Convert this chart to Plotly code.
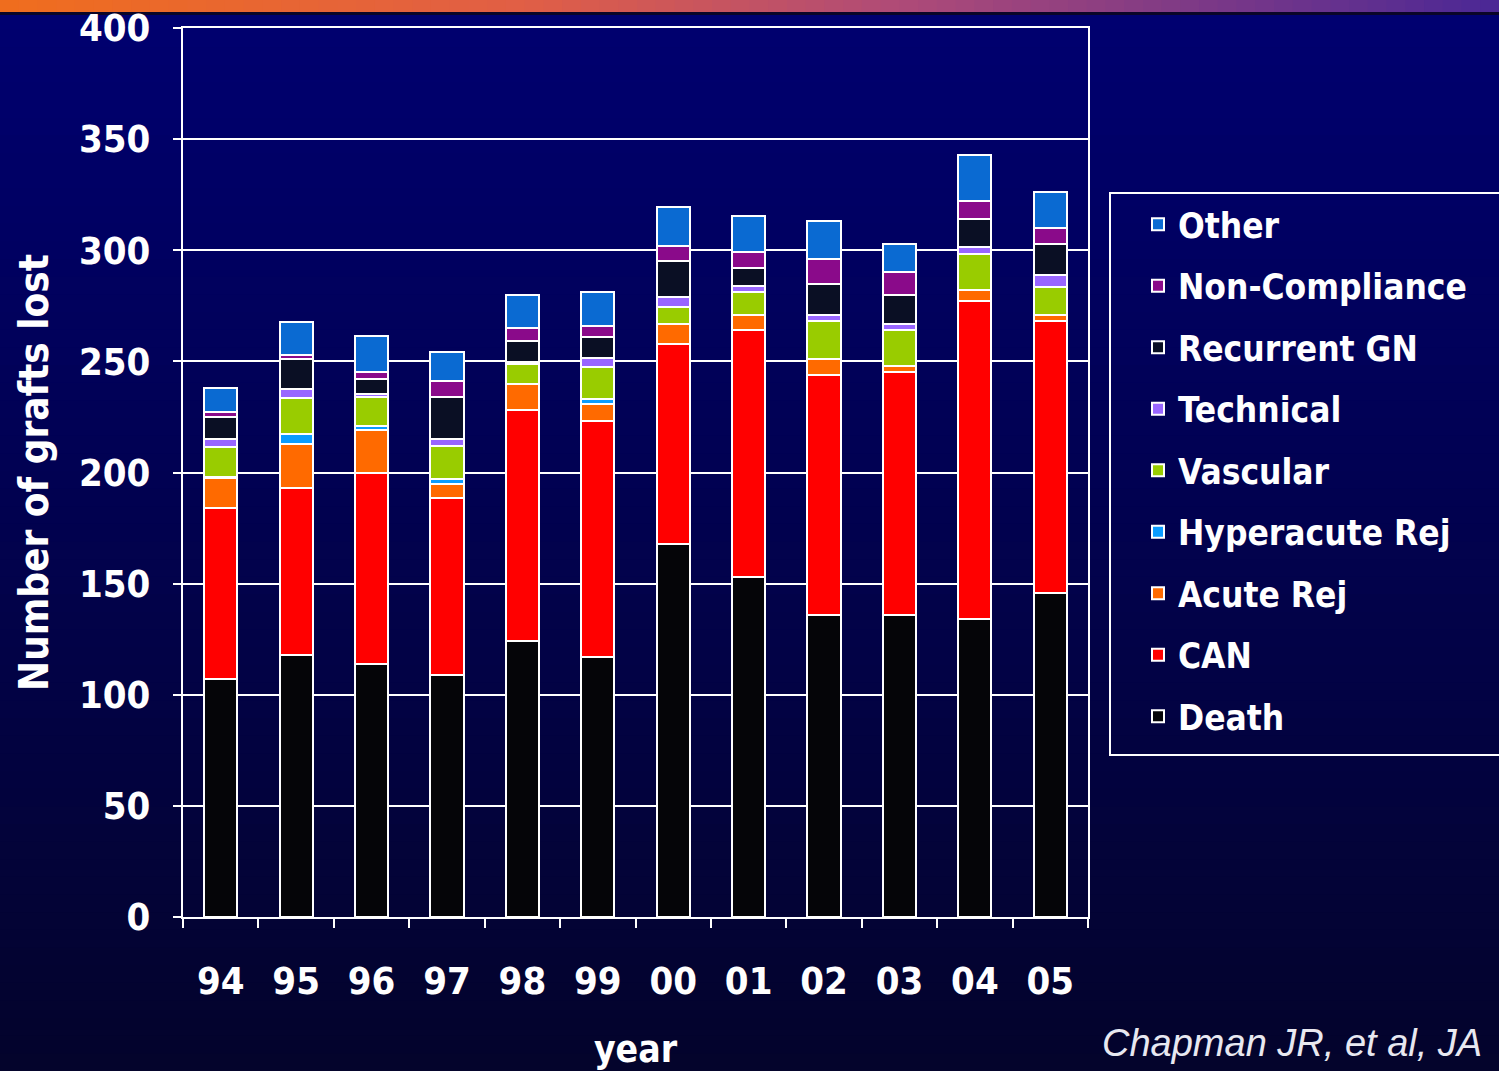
import plotly.graph_objects as go

years = ["94", "95", "96", "97", "98", "99", "00", "01", "02", "03", "04", "05"]

death        = [107, 118, 114, 109, 124, 117, 168, 153, 136, 136, 134, 146]
can          = [77, 75, 86, 79.5, 104, 106, 90, 111, 108, 109, 143, 122]
acute_rej    = [13.5, 20, 19, 6.5, 12, 8, 9, 7, 7, 3, 5, 3]
hyperacute   = [0.5, 4.5, 2, 2, 0, 2, 0, 0, 0, 0, 0, 0]
vascular     = [13.5, 16, 13, 15, 9, 14.5, 7.5, 10, 17, 16, 16.5, 12.5]
technical    = [3.5, 4, 1.5, 3, 0.5, 4, 4.5, 3, 3, 3, 3, 5.5]
recurrent_gn = [10, 13.5, 6.5, 19, 9.5, 9.5, 16, 8, 14, 13, 12.5, 14]
non_compl    = [2, 2, 3, 7, 6, 5, 7, 7, 11, 10, 8, 7]
other        = [11, 14.5, 16.5, 13, 15, 15, 17.5, 16.5, 17, 13, 21, 16]

series = [
    ("Death", death, "#050508"),
    ("CAN", can, "#ff0000"),
    ("Acute Rej", acute_rej, "#ff6a00"),
    ("Hyperacute Rej", hyperacute, "#0a9cff"),
    ("Vascular", vascular, "#99cc00"),
    ("Technical", technical, "#9966ff"),
    ("Recurrent GN", recurrent_gn, "#0a0f24"),
    ("Non-Compliance", non_compl, "#8a0a8a"),
    ("Other", other, "#0a6ad2"),
]

W, H = 1499, 1071
L, R, T, B = 183, 1088, 28, 917
pw, ph = R - L, B - T

def px_x(x):
    return (x - L) / pw

def px_y(y):
    return (B - y) / ph

FONT = "DejaVu Sans Condensed, Liberation Sans, Arial"

fig = go.Figure()
for i, (name, vals, col) in enumerate(series):
    fig.add_trace(go.Bar(
        x=years, y=vals, name=name, legendgroup=name,
        legendrank=1000 - i,
        marker=dict(color=col, line=dict(color="white", width=2)),
    ))

shapes = []
# background vertical gradient
nb = 60
top_c = (0, 0, 112)
bot_c = (4, 4, 44)
y_start = 12
for k in range(nb):
    y0 = y_start + (H - y_start) * k / nb
    y1 = y_start + (H - y_start) * (k + 1) / nb + 1
    t = k / (nb - 1)
    c = tuple(int(top_c[j] + (bot_c[j] - top_c[j]) * t) for j in range(3))
    shapes.append(dict(type="rect", xref="paper", yref="paper", layer="below",
                       x0=px_x(0), x1=px_x(W), y0=px_y(y1), y1=px_y(y0),
                       fillcolor="rgb(%d,%d,%d)" % c, line=dict(width=0)))
# top stripe gradient (orange -> purple)
stops = [(0.0, (240, 110, 30)), (0.35, (225, 95, 70)), (0.6, (175, 75, 120)), (1.0, (75, 40, 150))]
ns = 80
for k in range(ns):
    f = (k + 0.5) / ns
    for a in range(len(stops) - 1):
        if stops[a][0] <= f <= stops[a + 1][0]:
            u = (f - stops[a][0]) / (stops[a + 1][0] - stops[a][0])
            c = tuple(int(stops[a][1][j] + (stops[a + 1][1][j] - stops[a][1][j]) * u) for j in range(3))
            break
    x0 = W * k / ns
    x1 = W * (k + 1) / ns + 1
    shapes.append(dict(type="rect", xref="paper", yref="paper", layer="below",
                       x0=px_x(x0), x1=px_x(x1), y0=px_y(12), y1=px_y(-2),
                       fillcolor="rgb(%d,%d,%d)" % c, line=dict(width=0)))
# dark shadow under stripe
shapes.append(dict(type="rect", xref="paper", yref="paper", layer="below",
                   x0=px_x(0), x1=px_x(W), y0=px_y(15), y1=px_y(12),
                   fillcolor="rgb(10,5,40)", line=dict(width=0)))
# legend box
shapes.append(dict(type="rect", xref="paper", yref="paper", layer="above",
                   x0=px_x(1110), x1=px_x(1520), y0=px_y(755), y1=px_y(193),
                   fillcolor="rgba(0,0,0,0)", line=dict(color="white", width=2)))

axis_font = dict(family=FONT, size=38, color="white", weight="bold")

fig.update_layout(
    width=W, height=H,
    margin=dict(l=L, r=W - R, t=T, b=H - B, autoexpand=False),
    paper_bgcolor="#00005a",
    plot_bgcolor="rgba(0,0,0,0)",
    barmode="stack",
    bargap=0.56,
    shapes=shapes,
    showlegend=True,
    legend=dict(
        x=px_x(1138), y=px_y(195), xanchor="left", yanchor="top",
        traceorder="grouped", tracegroupgap=13,
        bgcolor="rgba(0,0,0,0)", borderwidth=0,
        font=dict(family=FONT, size=35, color="white", weight="bold"),
    ),
    xaxis=dict(
        type="category", categoryorder="array", categoryarray=years,
        showgrid=False, showline=True, linecolor="white", linewidth=2,
        mirror=True, ticks="outside", tickson="boundaries", ticklen=9,
        tickcolor="white", tickwidth=2, tickfont=axis_font,
        ticklabelstandoff=29,
        title=dict(text="year", font=dict(family=FONT, size=37, color="white", weight="bold"),
                   standoff=37),
    ),
    yaxis=dict(
        range=[0, 400], dtick=50, showgrid=True, gridcolor="white", gridwidth=2,
        showline=True, linecolor="white", linewidth=2, mirror=True,
        ticks="outside", ticklen=8, tickcolor="white", tickwidth=2,
        tickfont=axis_font, ticklabelstandoff=15, zeroline=False,
        title=dict(text="Number of grafts lost",
                   font=dict(family=FONT, size=40, color="white", weight="bold"),
                   standoff=18),
    ),
    annotations=[dict(
        text="Chapman JR, et al, JA", xref="paper", yref="paper",
        x=px_x(1100), y=px_y(1043), xanchor="left", yanchor="middle",
        showarrow=False,
        font=dict(family="Liberation Sans, Arial", size=38, color="#e8e8f0", style="italic"),
    )],
)

fig.write_html("out.html", config={"displayModeBar": False},
               post_script="document.body.style.margin='0';document.body.style.overflow='hidden';")
